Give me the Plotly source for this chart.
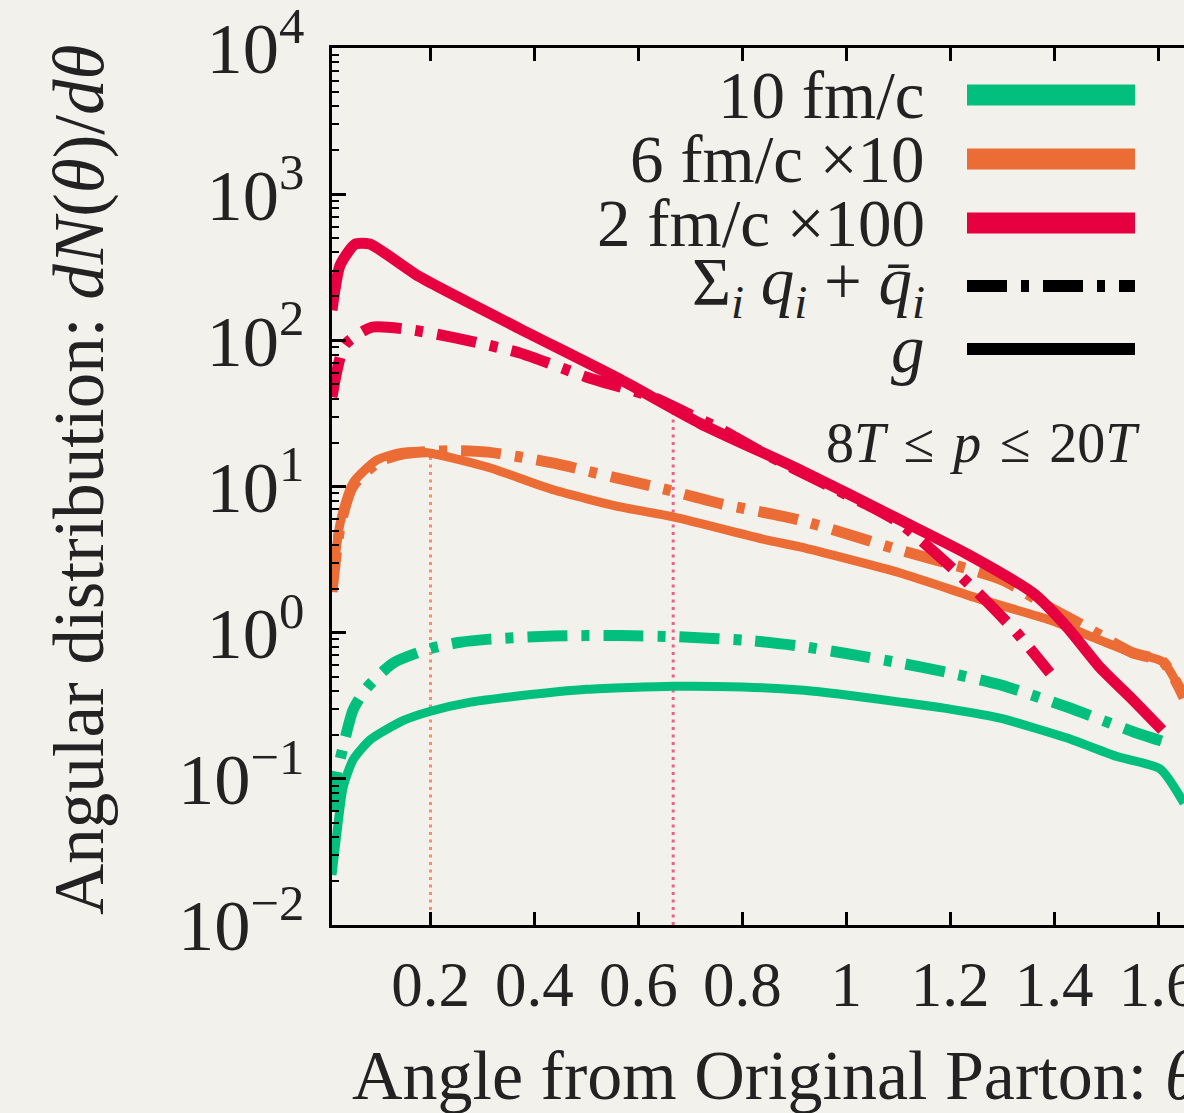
import plotly.graph_objects as go

# ---- angular distributions dN/dtheta, 8T <= p <= 20T ----
# 10 fm/c (unscaled)
theta_g10 = [0.0104, 0.02, 0.032, 0.051, 0.084, 0.147, 0.2, 0.277, 0.372, 0.501, 0.667,
             0.8, 0.911, 1.0, 1.104, 1.2, 1.296, 1.425, 1.521, 1.604, 1.65]
dn_g10 = [0.022, 0.043, 0.088, 0.135, 0.185, 0.25, 0.29, 0.335, 0.37, 0.41, 0.43,
          0.425, 0.405, 0.375, 0.335, 0.3, 0.26, 0.19, 0.142, 0.117, 0.068]
theta_q10 = [0.0104, 0.02, 0.026, 0.051, 0.077, 0.128, 0.2, 0.257, 0.309, 0.436, 0.565,
             0.667, 0.82, 0.911, 1.0, 1.104, 1.2, 1.296, 1.425, 1.552, 1.61]
dn_q10 = [0.06, 0.11, 0.136, 0.296, 0.418, 0.62, 0.78, 0.86, 0.9, 0.95, 0.955,
          0.94, 0.88, 0.81, 0.72, 0.62, 0.53, 0.44, 0.31, 0.21, 0.18]

# 6 fm/c, scaled x10
theta_g6 = [0.0104, 0.026, 0.051, 0.097, 0.147, 0.2, 0.309, 0.436, 0.565, 0.667,
            0.848, 0.911, 1.104, 1.263, 1.392, 1.488, 1.552, 1.61, 1.65]
dn_g6 = [2.05, 5.6, 10.6, 15.2, 17.2, 16.9, 13.6, 9.5, 7.25, 6.2,
         4.3, 3.86, 2.56, 1.67, 1.22, 0.89, 0.726, 0.63, 0.36]
theta_q6 = [0.0104, 0.026, 0.05, 0.1, 0.15, 0.2, 0.25, 0.31, 0.37, 0.44, 0.5, 0.57,
            0.66, 0.76, 0.91, 1.1, 1.3, 1.39, 1.45, 1.55, 1.61, 1.65]
dn_q6 = [1.9, 5.3, 10.0, 14.8, 16.8, 17.4, 17.6, 17.2, 16.0, 14.4, 12.8, 11.2,
         9.4, 7.6, 5.9, 3.7, 2.3, 1.5, 1.15, 0.73, 0.63, 0.36]

# 2 fm/c, scaled x100
theta_g2 = [0.0104, 0.026, 0.055, 0.083, 0.18, 0.372, 0.565, 0.719, 0.911,
            1.104, 1.233, 1.359, 1.425, 1.488, 1.552, 1.608]
dn_g2 = [161, 327, 456, 456, 271, 120, 54, 27.0, 13.0,
         5.9, 3.45, 1.87, 1.09, 0.58, 0.346, 0.216]
theta_q2 = [0.0104, 0.035, 0.087, 0.163, 0.243, 0.372, 0.501, 0.628, 0.694, 0.76,
            0.85, 0.95, 1.05, 1.104, 1.193, 1.262, 1.328, 1.392]
dn_q2 = [41, 93, 123, 118, 105, 82, 56, 41, 31.8, 24.5,
         16.3, 10.8, 7.2, 5.6, 3.0, 1.75, 1.0, 0.53]

# vertical markers
mark6_x = [0.2, 0.2]
mark6_y = [0.01, 16.9]
mark2_x = [0.667, 0.667]
mark2_y = [0.01, 31.8]

# axis ticks
x_ticks = [0.2, 0.4, 0.6, 0.8, 1.0, 1.2, 1.4, 1.6]
x_ticktext = ["0.2", "0.4", "0.6", "0.8", "1", "1.2", "1.4", "1.6"]
y_label_alias = {"1": "10<sup>0</sup>", "10": "10<sup>1</sup>"}

GREEN = "#02bf7e"
ORANGE = "#ec6c35"
RED = "#e6003f"
FONT = "Liberation Serif, Times New Roman, DejaVu Serif, serif"
INK = "#222222"
DASHDOT = "40px,14px,8px,14px"

fig = go.Figure()

fig.add_trace(go.Scatter(x=mark6_x, y=mark6_y, mode="lines",
                         line=dict(color="#f2906e", width=3, dash="3px,4.5px")))
fig.add_trace(go.Scatter(x=mark2_x, y=mark2_y, mode="lines",
                         line=dict(color="#ee6088", width=3, dash="3px,4.5px")))

curves = [
    (theta_g10, dn_g10, GREEN, 9, "solid"),
    (theta_q10, dn_q10, GREEN, 11, DASHDOT),
    (theta_g6, dn_g6, ORANGE, 9, "solid"),
    (theta_q6, dn_q6, ORANGE, 11, DASHDOT),
    (theta_q2, dn_q2, RED, 11, DASHDOT),
    (theta_g2, dn_g2, RED, 11, "solid"),
]
for xs, ys, col, w, dash in curves:
    fig.add_trace(go.Scatter(x=xs, y=ys, mode="lines",
                             line=dict(color=col, width=w, dash=dash,
                                       shape="spline", smoothing=0.6)))

# key drawn in the gnuplot style: text on the left, sample on the right
key_rows = [
    ("10 fm/c", GREEN, 21, "solid"),
    ("6 fm/c \u00d710", ORANGE, 21, "solid"),
    ("2 fm/c \u00d7100", RED, 21, "solid"),
    ("\u03a3<sub><i>i</i></sub> <i>q<sub>i</sub></i> + <i>q\u0304</i><sub><i>i</i></sub>", "black", 12, DASHDOT),
    ("<i>g</i>", "black", 12, "solid"),
]
plot_left, plot_w, plot_bottom, plot_h = 332, 852, 925, 877
row_y = [95, 159, 223, 286, 349]
for (label, col, w, dash), py in zip(key_rows, row_y):
    yp = (plot_bottom - py) / plot_h
    fig.add_shape(type="line", xref="paper", yref="paper",
                  x0=(967 - plot_left) / plot_w, x1=(1135 - plot_left) / plot_w,
                  y0=yp, y1=yp, line=dict(color=col, width=w, dash=dash))
    fig.add_annotation(xref="paper", yref="paper", x=(927 - plot_left) / plot_w, y=yp,
                       xanchor="right", yanchor="middle", text=label, showarrow=False,
                       font=dict(family=FONT, size=67, color=INK))

fig.add_annotation(xref="paper", yref="paper", x=(1142 - plot_left) / plot_w,
                   y=(plot_bottom - 443) / plot_h, xanchor="right", yanchor="middle",
                   text="8<i>T</i>\u2004\u2264\u2004<i>p</i>\u2004\u2264\u200420<i>T</i>",
                   showarrow=False, font=dict(family=FONT, size=56, color=INK))

fig.add_annotation(xref="paper", yref="paper", x=(80 - plot_left) / plot_w,
                   y=(plot_bottom - 480) / plot_h, xanchor="center", yanchor="middle",
                   textangle=-90, showarrow=False,
                   text="Angular distribution: <i>dN</i>(<i>\u03b8</i>)/<i>d\u03b8</i>",
                   font=dict(family=FONT, size=71, color=INK))

fig.add_annotation(xref="paper", yref="paper", x=(350 - plot_left) / plot_w,
                   y=(plot_bottom - 1075) / plot_h, xanchor="left", yanchor="middle",
                   text="Angle from Original Parton: <i>\u03b8</i>", showarrow=False,
                   font=dict(family=FONT, size=70, color=INK))

fig.update_layout(
    width=1184, height=1113,
    margin=dict(l=plot_left, r=0, t=48, b=1113 - plot_bottom),
    paper_bgcolor="#f3f1ec", plot_bgcolor="#f3f1ec",
    showlegend=False, template="none",
    font=dict(family=FONT, color=INK),
)
fig.update_xaxes(range=[0.0104, 1.65], tickvals=x_ticks, ticktext=x_ticktext,
                 ticks="inside", ticklen=13, tickwidth=2.5, tickcolor="black",
                 showline=True, linecolor="black", linewidth=3, mirror="ticks",
                 showgrid=False, zeroline=False, automargin=False,
                 ticklabelstandoff=2, ticklabeloverflow="allow",
                 tickfont=dict(family=FONT, size=63, color=INK))
fig.update_yaxes(type="log", range=[-2, 4.0005], tickmode="linear", tick0=0, dtick=1,
                 exponentformat="power", showexponent="all", labelalias=y_label_alias,
                 ticks="inside", ticklen=14, tickwidth=2.5, tickcolor="black",
                 minor=dict(ticks="inside", ticklen=7, tickwidth=2, tickcolor="black",
                            dtick="D1", showgrid=False),
                 showline=True, linecolor="black", linewidth=3, mirror=False,
                 showgrid=False, zeroline=False, automargin=False,
                 ticklabelstandoff=13, ticklabeloverflow="allow",
                 tickfont=dict(family=FONT, size=58, color=INK))

fig.write_html("out.html")
